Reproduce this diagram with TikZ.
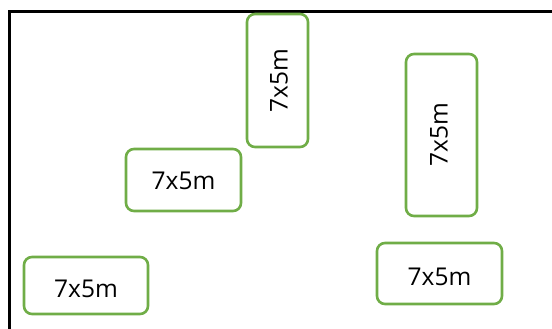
\documentclass[tikz,border=0pt]{standalone}
\usepackage{fontspec}
\setmainfont{Open Sans}
\definecolor{boxgreen}{RGB}{112,173,71}
\newcommand{\shifttext}[2]{\raisebox{#1}[\height][\depth]{#2}}
\begin{document}
\begin{tikzpicture}[x=1pt,y=-1pt,
  plot/.style={draw=boxgreen, line width=2.6pt, rounded corners=8pt, fill=white, inner sep=0pt, font=\fontsize{24.5}{28}\selectfont},
  frame/.style={draw=black, line width=3pt}]
\clip (0,0) rectangle (552,329);
\draw[frame] (9.5,340) -- (9.5,12) -- (560,12);
\node[plot, minimum width=124pt, minimum height=57pt] (a) at (86,285.5) {\shifttext{-3pt}{7x5m}};
\node[plot, minimum width=125pt, minimum height=61pt] (b) at (439.5,273.5) {\shifttext{-3pt}{7x5m}};
\node[plot, minimum width=115pt, minimum height=62pt] (c) at (183.5,180) {\shifttext{-1pt}{7x5m}};
\node[plot, minimum width=61pt, minimum height=133pt] (d) at (277.5,80.5) {\rotatebox{90}{\shifttext{-1.5pt}{7x5m}}};
\node[plot, minimum width=71pt, minimum height=162pt] (e) at (441.5,135) {\rotatebox{90}{\shifttext{2.5pt}{7x5m}}};
\end{tikzpicture}
\end{document}
